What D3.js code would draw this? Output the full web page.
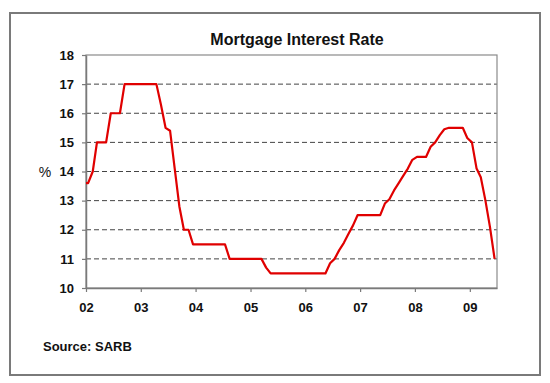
<!DOCTYPE html>
<html>
<head>
<meta charset="utf-8">
<script src="https://cdn.jsdelivr.net/npm/d3@7"></script>
<style>
  body { margin: 0; background: #fff; }
  text { font-family: Arial, "Liberation Sans", sans-serif; }
</style>
</head>
<body>
<svg id="root" width="550" height="383"></svg>
<script>
var d3 = window.d3

// monthly mortgage rate, Jan 2002 - Jun 2009
const rates2002 = [13.6, 14.0, 15.0, 15.0, 15.0, 16.0, 16.0, 16.0, 17.0, 17.0, 17.0, 17.0]
const rates2003 = [17.0, 17.0, 17.0, 17.0, 16.3, 15.5, 15.4, 14.1, 12.8, 12.0, 12.0, 11.5]
const rates2004 = [11.5, 11.5, 11.5, 11.5, 11.5, 11.5, 11.5, 11.0, 11.0, 11.0, 11.0, 11.0]
const rates2005 = [11.0, 11.0, 11.0, 10.7, 10.5, 10.5, 10.5, 10.5, 10.5, 10.5, 10.5, 10.5]
const rates2006 = [10.5, 10.5, 10.5, 10.5, 10.5, 10.85, 11.0, 11.3, 11.55, 11.85, 12.15, 12.5]
const rates2007 = [12.5, 12.5, 12.5, 12.5, 12.5, 12.9, 13.05, 13.35, 13.6, 13.85, 14.1, 14.4]
const rates2008 = [14.5, 14.5, 14.5, 14.85, 15.0, 15.25, 15.45, 15.5, 15.5, 15.5, 15.5, 15.15]
const rates2009 = [15.0, 14.1, 13.8, 13.0, 12.1, 11.0]

const yTicks = [10, 11, 12, 13, 14, 15, 16, 17, 18]
const gridTicks = [11, 12, 13, 14, 15, 16, 17]

const rates = [].concat(rates2002, rates2003, rates2004, rates2005,
  rates2006, rates2007, rates2008, rates2009)
const months = d3.timeMonth.range(new Date(2002, 0, 1), new Date(2002, rates.length, 1))

const plotLeft = 86
const plotRight = 497
const plotTop = 55
const plotBottom = 288

const svg = d3.select('#root')

// outer frame
svg.append('rect')
  .attr('x', 10).attr('y', 13)
  .attr('width', 530).attr('height', 362)
  .attr('fill', '#fff')
  .attr('stroke', '#7a7a7a')
  .attr('stroke-width', 2)

const x = d3.scaleTime()
  .domain([new Date(2002, 0, 1), new Date(2009, 6, 1)])
  .range([plotLeft, plotRight])

const y = d3.scaleLinear()
  .domain([10, 18])
  .range([plotBottom, plotTop])

// grid
svg.append('g')
  .selectAll('line')
  .data(gridTicks)
  .enter()
  .append('line')
  .attr('x1', plotLeft).attr('x2', plotRight)
  .attr('y1', d => y(d)).attr('y2', d => y(d))
  .attr('stroke', '#444')
  .attr('stroke-width', 1)
  .attr('stroke-dasharray', '5,3')

// plot box (top + right)
svg.append('rect')
  .attr('x', plotLeft).attr('y', plotTop)
  .attr('width', plotRight - plotLeft).attr('height', plotBottom - plotTop)
  .attr('fill', 'none')
  .attr('stroke', '#8a8a8a')
  .attr('stroke-width', 1.2)

const yAxis = d3.axisLeft(y)
  .tickValues(yTicks)
  .tickSize(4)
  .tickSizeOuter(0)
  .tickPadding(8)

const xAxis = d3.axisBottom(x)
  .ticks(d3.timeYear.every(1))
  .tickFormat(d3.timeFormat('%y'))
  .tickSize(4)
  .tickSizeOuter(0)
  .tickPadding(11)

const gy = svg.append('g')
  .attr('transform', `translate(${plotLeft},0)`)
  .call(yAxis)

const gx = svg.append('g')
  .attr('transform', `translate(0,${plotBottom})`)
  .call(xAxis)

;[gx, gy].forEach(g => {
  g.select('.domain').attr('stroke', '#7a7a7a').attr('stroke-width', 1.5)
  g.selectAll('.tick line').attr('stroke', '#7a7a7a').attr('stroke-width', 1.2)
  g.selectAll('.tick text')
    .attr('fill', '#111')
    .style('font-size', '13px')
    .style('font-weight', 'bold')
})

// the rate line, points at mid-month, first value held back to the axis
const pts = [{ date: x.domain()[0], v: rates[0] }].concat(
  rates.map((v, i) => ({ date: d3.timeDay.offset(months[i], 14), v: v }))
)

svg.append('path')
  .datum(pts)
  .attr('fill', 'none')
  .attr('stroke', '#e00000')
  .attr('stroke-width', 2.2)
  .attr('stroke-linejoin', 'round')
  .attr('d', d3.line().x(d => x(d.date)).y(d => y(d.v)))

// texts
svg.append('text')
  .attr('x', 297).attr('y', 45)
  .attr('text-anchor', 'middle')
  .style('font-size', '16px')
  .style('font-weight', 'bold')
  .attr('fill', '#111')
  .text('Mortgage Interest Rate')

svg.append('text')
  .attr('x', 45).attr('y', 177)
  .attr('text-anchor', 'middle')
  .style('font-size', '14px')
  .attr('fill', '#111')
  .text('%')

svg.append('text')
  .attr('x', 43).attr('y', 351)
  .style('font-size', '13px')
  .style('font-weight', 'bold')
  .attr('fill', '#111')
  .text('Source: SARB')
</script>
</body>
</html>
